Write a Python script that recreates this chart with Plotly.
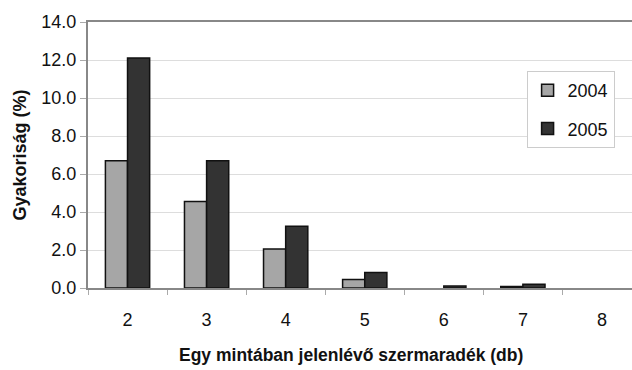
import plotly.graph_objects as go

categories = ["2", "3", "4", "5", "6", "7", "8"]
values_2004 = [6.7, 4.55, 2.05, 0.45, 0.0, 0.08, 0.0]
values_2005 = [12.1, 6.7, 3.25, 0.82, 0.1, 0.2, 0.0]
y_ticks = [0, 2, 4, 6, 8, 10, 12, 14]
y_tick_text = [f"{v:.1f}" for v in y_ticks]


def outline(values):
    return [1.5 if v > 0 else 0 for v in values]


fig = go.Figure()
fig.add_trace(go.Bar(x=categories, y=values_2004, name="2004",
                     marker=dict(color="#a6a6a6", line=dict(color="#111111", width=outline(values_2004))),
                     legendgroup="a"))
fig.add_trace(go.Bar(x=categories, y=values_2005, name="2005",
                     marker=dict(color="#333333", line=dict(color="#111111", width=outline(values_2005))),
                     legendgroup="b"))

fig.update_layout(
    width=632, height=370,
    margin=dict(l=88, r=0, t=22, b=82, autoexpand=False),
    paper_bgcolor="white", plot_bgcolor="white",
    barmode="group", bargap=0.44, bargroupgap=0,
    font=dict(family="Liberation Sans, Arial, sans-serif", size=18, color="#111111"),
    showlegend=True,
    legend=dict(x=0.968, y=0.816, xanchor="right", yanchor="top",
                bordercolor="#cccccc", borderwidth=1, bgcolor="white",
                font=dict(size=18), tracegroupgap=12, itemwidth=30),
    xaxis=dict(type="category", range=[-0.5, 6.38], automargin=False,
               showline=True, linecolor="#888888", linewidth=2, mirror=True,
               ticks="outside", ticklen=5, tickcolor="#aaaaaa", tickson="boundaries",
               showgrid=False, ticklabelstandoff=14),
    yaxis=dict(range=[0, 14], tickvals=y_ticks, ticktext=y_tick_text, automargin=False,
               showline=True, linecolor="#888888", linewidth=2,
               ticks="outside", ticklen=6, tickcolor="#aaaaaa",
               showgrid=True, gridcolor="#dddddd", gridwidth=1,
               zeroline=False, ticklabelstandoff=0,
               title=dict(text="<b>Gyakoriság (%)</b>",
                          font=dict(family="Liberation Sans, Arial, sans-serif", size=18),
                          standoff=10)),
    annotations=[dict(text="<b>Egy mintában jelenlévő szermaradék (db)</b>",
                      xref="paper", yref="paper", x=0.483, y=-0.252,
                      xanchor="center", yanchor="middle", showarrow=False,
                      font=dict(family="Liberation Sans, Arial, sans-serif", size=17.5))],
)

fig.write_html("out.html", config={"displayModeBar": False},
               post_script="document.body.style.margin='0';document.body.style.overflow='hidden';")
